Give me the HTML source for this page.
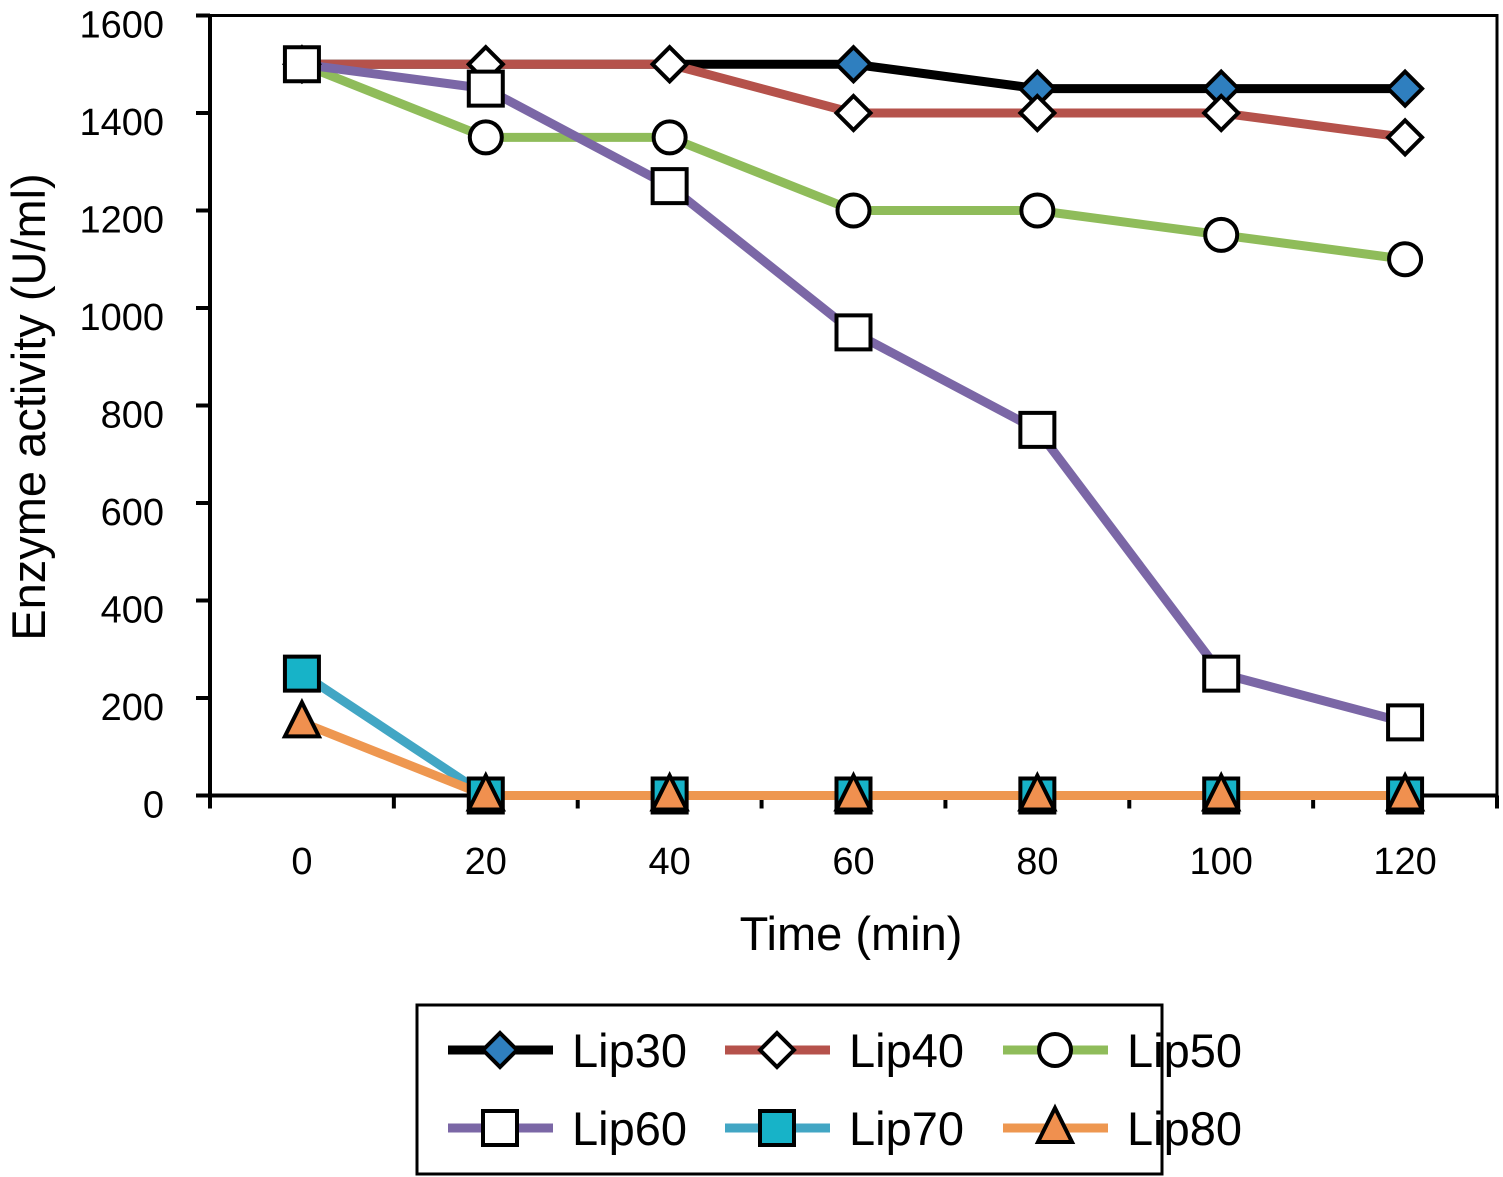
<!DOCTYPE html>
<html><head><meta charset="utf-8"><style>
html,body{margin:0;padding:0;background:#fff}
svg{display:block;font-family:"Liberation Sans",Arial,sans-serif}
</style></head><body>
<svg id="chart" width="1503" height="1177" viewBox="0 0 1503 1177"></svg>
<script>
const categories=[0,20,40,60,80,100,120];
const yTicks=[0,200,400,600,800,1000,1200,1400,1600];
const lip30=[1500,1500,1500,1500,1450,1450,1450];
const lip40=[1500,1500,1500,1400,1400,1400,1350];
const lip50=[1500,1350,1350,1200,1200,1150,1100];
const lip60=[1500,1450,1250,950,750,250,150];
const lip70=[250,0,0,0,0,0,0];
const lip80=[150,0,0,0,0,0,0];
const seriesNames=["Lip30","Lip40","Lip50","Lip60","Lip70","Lip80"];

const NS="http://www.w3.org/2000/svg";
const svg=document.getElementById('chart');
const X0=210,X1=1497,Y0=795.5,Y1=15.5,YMAX=1600;
const step=(X1-X0)/categories.length;
const xs=i=>X0+step*(i+0.5);
const ys=v=>Y0-(v/YMAX)*(Y0-Y1);
function el(tag,attrs,parent){const e=document.createElementNS(NS,tag);for(const k in attrs)e.setAttribute(k,attrs[k]);(parent||svg).appendChild(e);return e;}

// frame
const fr=el('rect',{x:X0,y:Y1,width:X1-X0,height:Y0-Y1,fill:'none',stroke:'#000','stroke-width':3});


const axY=el('line',{x1:X0,y1:Y1,x2:X0,y2:Y0+2,stroke:'#000','stroke-width':4});


const axX=el('line',{x1:X0-2,y1:Y0,x2:X1,y2:Y0,stroke:'#000','stroke-width':4});


yTicks.forEach(v=>{
  const t=el('line',{x1:X0-14,y1:ys(v),x2:X0,y2:ys(v),stroke:'#000','stroke-width':4});
  
  
  const l=el('text',{x:164,y:ys(v)+22,'text-anchor':'end','font-size':38});
  l.textContent=v;
  
  
});
for(let i=0;i<=categories.length;i++){
  const x=X0+step*i;
  const t=el('line',{x1:x,y1:Y0,x2:x,y2:Y0+13,stroke:'#000','stroke-width':4});
  
  
}
categories.forEach((c,i)=>{
  const l=el('text',{x:xs(i),y:874,'text-anchor':'middle','font-size':38});
  l.textContent=c;
  
  
});
const xt=el('text',{x:851,y:950,'text-anchor':'middle','font-size':47});
xt.textContent='Time (min)';


const yt=el('text',{x:0,y:0,'text-anchor':'middle','font-size':47,transform:'translate(45,407) rotate(-90)'});
yt.textContent='Enzyme activity (U/ml)';



function marker(type,cx,cy,fill,parent){
  let m;
  const s={stroke:'#000','stroke-width':4,fill:fill};
  if(type==='diamond'){m=el('polygon',Object.assign({points:`${cx},${cy-17} ${cx+17},${cy} ${cx},${cy+17} ${cx-17},${cy}`},s),parent);}
  else if(type==='circle'){m=el('circle',Object.assign({cx:cx,cy:cy,r:16},s),parent);}
  else if(type==='square'){m=el('rect',Object.assign({x:cx-17,y:cy-17,width:34,height:34},s),parent);}
  else {m=el('polygon',Object.assign({points:`${cx},${cy-20} ${cx+17},${cy+14} ${cx-17},${cy+14}`},s),parent);}
  return m;
}
const cfg=[
 {data:lip30,color:'#000000',m:'diamond',fill:'#2f7fbf'},
 {data:lip40,color:'#b5524b',m:'diamond',fill:'#fff'},
 {data:lip50,color:'#8fbc5a',m:'circle',fill:'#fff'},
 {data:lip60,color:'#7b67a6',m:'square',fill:'#fff'},
 {data:lip70,color:'#42a6c4',m:'square',fill:'#17b3c8'},
 {data:lip80,color:'#ee9750',m:'triangle',fill:'#f0904f'}
];
cfg.forEach((c,k)=>{
  const p=el('polyline',{points:c.data.map((v,i)=>xs(i)+','+ys(v)).join(' '),fill:'none',stroke:c.color,'stroke-width':9,'stroke-linejoin':'round'});
  
  
});
cfg.forEach((c,k)=>{
  c.data.forEach((v,i)=>{
    const m=marker(c.m,xs(i),ys(v),c.fill);
    
    
  });
});

// legend
const lg=el('g',{});


el('rect',{x:417,y:1005,width:745,height:169,fill:'#fff',stroke:'#000','stroke-width':3},lg);
const colX=[448,725,1003];const rowY=[1050,1128];
cfg.forEach((c,k)=>{
  const x=colX[k%3],y=rowY[Math.floor(k/3)];
  const e=el('g',{},lg);
  
  
  el('line',{x1:x,y1:y,x2:x+105,y2:y,stroke:c.color,'stroke-width':9},e);
  marker(c.m,x+52,y,c.fill,e);
  const t=el('text',{x:x+124,y:y+17,'font-size':47},e);
  t.textContent=seriesNames[k];
});
</script>
</body></html>
